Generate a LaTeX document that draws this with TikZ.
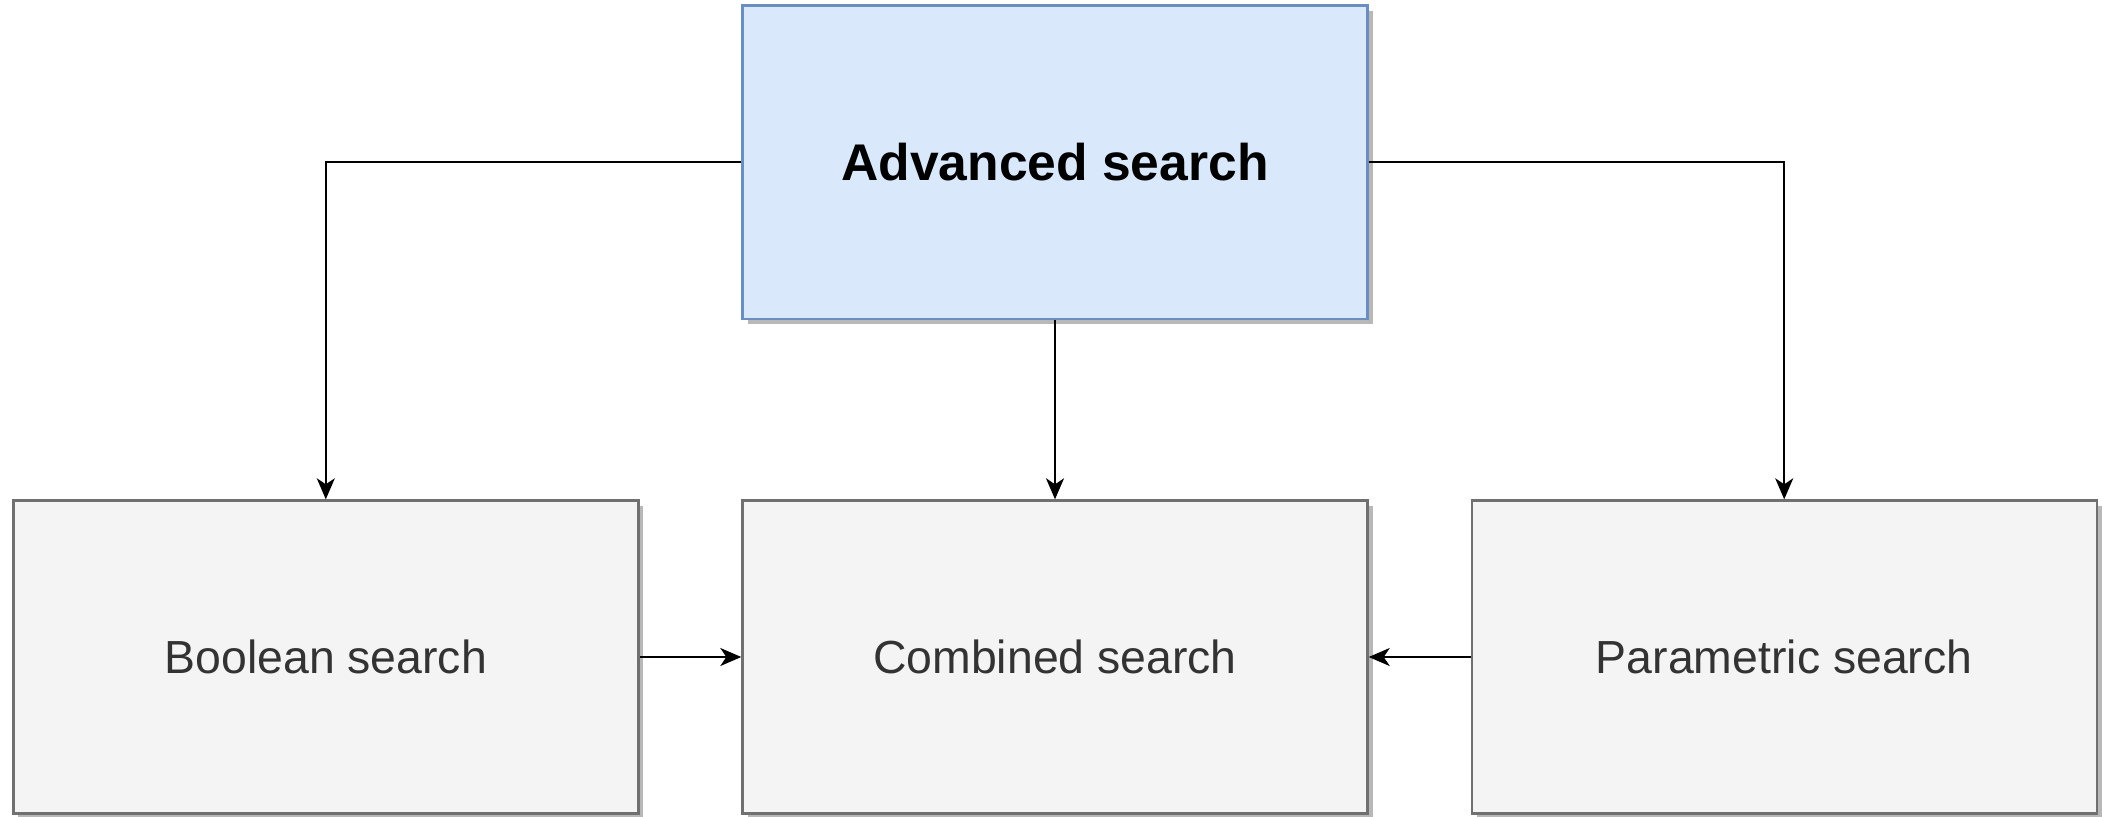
\documentclass[tikz,border=0pt]{standalone}
\usepackage{fontspec}
\setmainfont{Liberation Sans}
\usetikzlibrary{arrows.meta,shadows}

\definecolor{advFill}{HTML}{DAE8FC}
\definecolor{advLine}{HTML}{6C8EBF}
\definecolor{optFill}{HTML}{F4F4F4}
\definecolor{optLine}{HTML}{707070}
\definecolor{optText}{HTML}{333333}

\tikzset{
    searchbox/.style={rectangle, draw, line width=1.2pt, minimum width=312.5pt, minimum height=156.5pt, inner sep=0pt,
        drop shadow={shadow xshift=2.5pt, shadow yshift=-2.5pt, fill=black!28, opacity=1}},
    optbox/.style={searchbox, fill=optFill, draw=optLine, text=optText, font=\fontsize{23.2}{28}\selectfont},
    link/.style={-{Stealth[length=10.5pt,width=9pt,inset=3pt]}, line width=1pt, black}
}

\begin{document}
\begin{tikzpicture}[x=1pt,y=1pt]
    \useasboundingbox (0,0) rectangle (1051,408);

    % Main box
    \node[searchbox, fill=advFill, draw=advLine, font=\bfseries\fontsize{25.8}{30}\selectfont] (adv) at (527.5,326.9) {Advanced search};

    % Bottom row
    \node[optbox] (bool) at (162.9,79.5) {Boolean search};
    \node[optbox] (comb) at (527.5,79.5) {Combined search};
    \node[optbox] (param) at (892.1,79.5) {Parametric search};

    % Links from main box
    \draw[link] (adv.west) -| (bool.north);
    \draw[link] (adv.south) -- (comb.north);
    \draw[link] (adv.east) -| (param.north);

    % Links into combined search
    \draw[link] (bool.east) -- (comb.west);
    \draw[link] (param.west) -- (comb.east);
\end{tikzpicture}
\end{document}
